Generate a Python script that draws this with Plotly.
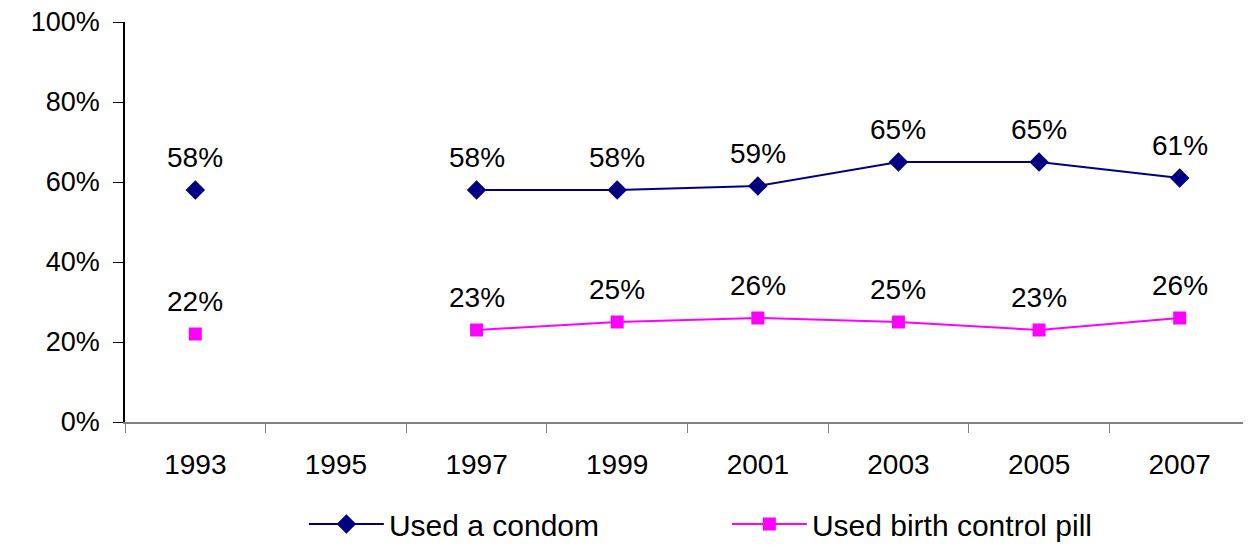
import plotly.graph_objects as go

years = ["1993", "1995", "1997", "1999", "2001", "2003", "2005", "2007"]
condom = [58, None, 58, 58, 59, 65, 65, 61]
pill = [22, None, 23, 25, 26, 25, 23, 26]
y_ticks = [0, 20, 40, 60, 80, 100]
y_tick_labels = ["0%", "20%", "40%", "60%", "80%", "100%"]

FONT = "Liberation Sans, Arial, sans-serif"

fig = go.Figure()
fig.add_trace(go.Scatter(
    x=years, y=condom, name="Used a condom", mode="lines+markers",
    line=dict(color="#000080", width=2),
    marker=dict(symbol="diamond", size=15, color="#000080"),
    connectgaps=False,
))
fig.add_trace(go.Scatter(
    x=years, y=pill, name="Used birth control pill", mode="lines+markers",
    line=dict(color="#FF00FF", width=2),
    marker=dict(symbol="square", size=13, color="#FF00FF"),
    connectgaps=False,
))

for series in (condom, pill):
    for i, v in enumerate(series):
        if v is None:
            continue
        fig.add_annotation(
            x=i, y=v, text=f"{v}%", showarrow=False, yshift=33,
            font=dict(family=FONT, size=28, color="black"),
        )

fig.update_layout(
    width=1251, height=545,
    margin=dict(l=117, r=9, t=14, b=131, autoexpand=False),
    paper_bgcolor="white", plot_bgcolor="white",
    font=dict(family=FONT, size=28, color="black"),
    showlegend=True,
    legend=dict(
        orientation="h", x=0.159, xanchor="left", y=-0.19, yanchor="top",
        font=dict(family=FONT, size=30, color="black"),
        itemwidth=75, entrywidth=333,
    ),
)
fig.update_xaxes(
    type="category", categoryorder="array", categoryarray=years,
    range=[-0.5, len(years) - 0.5], autorange=False, automargin=False,
    tickson="boundaries", ticks="outside", ticklen=9, tickcolor="#808080",
    showline=True, linecolor="#808080", linewidth=2,
    showgrid=False, zeroline=False, tickangle=0,
    tickfont=dict(family=FONT, size=28),
    ticklabelstandoff=16, ticklabeloverflow="allow",
)
fig.update_yaxes(
    range=[0, 100], tickvals=y_ticks, ticktext=y_tick_labels,
    autorange=False, automargin=False,
    ticks="outside", ticklen=10, tickcolor="black",
    showline=True, linecolor="black", linewidth=1.5,
    showgrid=False, zeroline=False,
    tickfont=dict(family=FONT, size=27),
    ticklabelstandoff=8, ticklabeloverflow="allow",
)

fig.write_html("out.html")
